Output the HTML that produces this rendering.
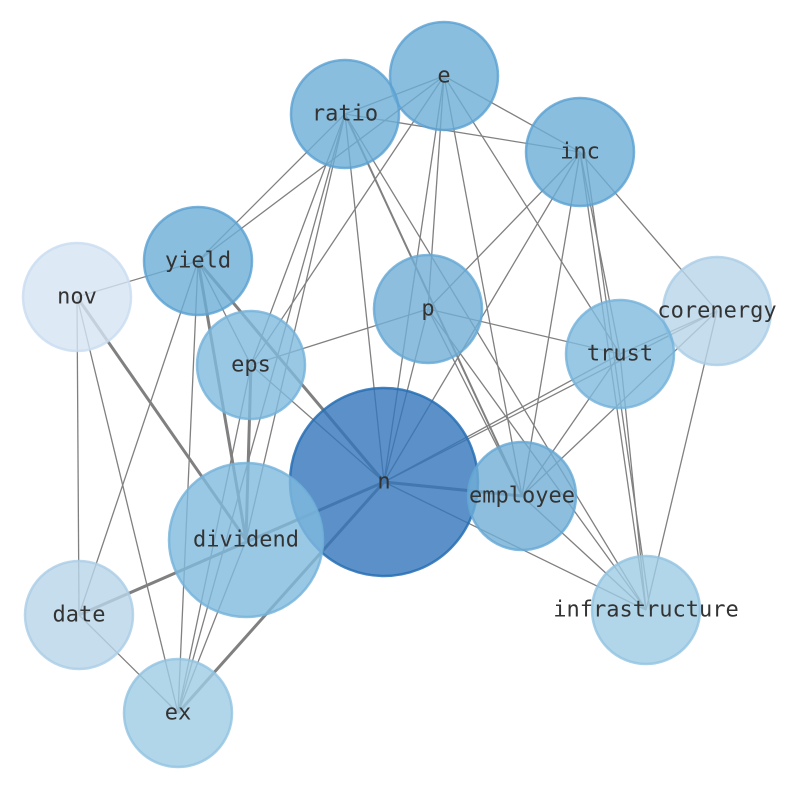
<!DOCTYPE html>
<html><head><meta charset="utf-8"><style>html,body{margin:0;padding:0;background:#fff}svg{display:block}</style></head>
<body>
<svg width="794" height="790" viewBox="0 0 794 790" xmlns="http://www.w3.org/2000/svg">
<g stroke="#808080" stroke-width="1.3" fill="none">
<line x1="345" y1="114" x2="444" y2="76"/>
<line x1="345" y1="114" x2="580" y2="152"/>
<line x1="345" y1="114" x2="198" y2="261"/>
<line x1="345" y1="114" x2="251" y2="365"/>
<line x1="345" y1="114" x2="246" y2="540"/>
<line x1="345" y1="114" x2="178" y2="713"/>
<line x1="345" y1="114" x2="384" y2="482"/>
<line x1="345" y1="114" x2="522" y2="496" stroke-width="2"/>
<line x1="345" y1="114" x2="646" y2="610"/>
<line x1="444" y1="76" x2="580" y2="152"/>
<line x1="444" y1="76" x2="198" y2="261"/>
<line x1="444" y1="76" x2="251" y2="365"/>
<line x1="444" y1="76" x2="428" y2="309"/>
<line x1="444" y1="76" x2="384" y2="482"/>
<line x1="444" y1="76" x2="522" y2="496"/>
<line x1="444" y1="76" x2="620" y2="354"/>
<line x1="580" y1="152" x2="428" y2="309"/>
<line x1="580" y1="152" x2="384" y2="482"/>
<line x1="580" y1="152" x2="522" y2="496"/>
<line x1="580" y1="152" x2="646" y2="610"/>
<line x1="580" y1="152" x2="620" y2="354"/>
<line x1="580" y1="152" x2="717" y2="311"/>
<line x1="585" y1="152" x2="650" y2="610"/>
<line x1="198" y1="261" x2="77" y2="297"/>
<line x1="198" y1="261" x2="79" y2="615"/>
<line x1="198" y1="261" x2="178" y2="713"/>
<line x1="198" y1="261" x2="246" y2="540" stroke-width="3"/>
<line x1="198" y1="261" x2="251" y2="365"/>
<line x1="198" y1="261" x2="384" y2="482" stroke-width="3"/>
<line x1="77" y1="297" x2="79" y2="615"/>
<line x1="77" y1="297" x2="178" y2="713"/>
<line x1="77" y1="297" x2="246" y2="540" stroke-width="3"/>
<line x1="428" y1="309" x2="251" y2="365"/>
<line x1="428" y1="309" x2="620" y2="354"/>
<line x1="428" y1="309" x2="384" y2="482"/>
<line x1="428" y1="309" x2="522" y2="496"/>
<line x1="428" y1="309" x2="646" y2="610"/>
<line x1="717" y1="311" x2="620" y2="354"/>
<line x1="717" y1="311" x2="384" y2="482"/>
<line x1="717" y1="311" x2="522" y2="496"/>
<line x1="717" y1="311" x2="646" y2="610"/>
<line x1="620" y1="354" x2="384" y2="482"/>
<line x1="620" y1="354" x2="522" y2="496"/>
<line x1="620" y1="354" x2="646" y2="610"/>
<line x1="251" y1="365" x2="246" y2="540" stroke-width="3"/>
<line x1="251" y1="365" x2="384" y2="482"/>
<line x1="251" y1="365" x2="178" y2="713"/>
<line x1="384" y1="482" x2="522" y2="496" stroke-width="3"/>
<line x1="384" y1="482" x2="79" y2="615" stroke-width="3"/>
<line x1="384" y1="482" x2="178" y2="713" stroke-width="3"/>
<line x1="384" y1="482" x2="646" y2="610"/>
<line x1="522" y1="496" x2="646" y2="610"/>
<line x1="79" y1="615" x2="178" y2="713"/>
<line x1="246" y1="540" x2="178" y2="713"/>
</g>
<g stroke-width="2.5">
<circle cx="444" cy="76" r="54" fill="rgba(107,174,214,0.8)" stroke="rgba(90,160,210,0.8)"/>
<circle cx="345" cy="114" r="54" fill="rgba(107,174,214,0.8)" stroke="rgba(90,160,210,0.8)"/>
<circle cx="580" cy="152" r="54" fill="rgba(107,174,214,0.8)" stroke="rgba(90,160,210,0.8)"/>
<circle cx="198" cy="261" r="54" fill="rgba(107,174,214,0.8)" stroke="rgba(90,160,210,0.8)"/>
<circle cx="77" cy="297" r="54" fill="rgba(214,228,244,0.8)" stroke="rgba(200,220,240,0.8)"/>
<circle cx="428" cy="309" r="54" fill="rgba(112,174,214,0.8)" stroke="rgba(100,168,212,0.8)"/>
<circle cx="717" cy="311" r="54" fill="rgba(184,213,233,0.8)" stroke="rgba(170,205,230,0.8)"/>
<circle cx="620" cy="354" r="54" fill="rgba(128,186,222,0.8)" stroke="rgba(115,178,218,0.8)"/>
<circle cx="251" cy="365" r="54" fill="rgba(128,186,222,0.8)" stroke="rgba(115,178,218,0.8)"/>
<circle cx="384" cy="482" r="94" fill="rgba(50,118,186,0.8)" stroke="rgba(40,110,180,0.85)"/>
<circle cx="522" cy="496" r="54" fill="rgba(112,174,214,0.8)" stroke="rgba(100,168,212,0.8)"/>
<circle cx="246" cy="540" r="77" fill="rgba(128,186,222,0.8)" stroke="rgba(115,178,218,0.8)"/>
<circle cx="646" cy="610" r="54" fill="rgba(158,203,228,0.8)" stroke="rgba(145,195,225,0.8)"/>
<circle cx="79" cy="615" r="54" fill="rgba(184,213,233,0.8)" stroke="rgba(170,205,230,0.8)"/>
<circle cx="178" cy="713" r="54" fill="rgba(158,203,228,0.8)" stroke="rgba(145,195,225,0.8)"/>
</g>
<g font-family="DejaVu Sans Mono, Liberation Mono, monospace" font-size="22" fill="#333" text-anchor="middle" dominant-baseline="central">
<text x="444" y="76">e</text>
<text x="345" y="114">ratio</text>
<text x="580" y="152">inc</text>
<text x="198" y="261">yield</text>
<text x="77" y="297">nov</text>
<text x="428" y="309">p</text>
<text x="717" y="311">corenergy</text>
<text x="620" y="354">trust</text>
<text x="251" y="365">eps</text>
<text x="384" y="482">n</text>
<text x="522" y="496">employee</text>
<text x="246" y="540">dividend</text>
<text x="646" y="610">infrastructure</text>
<text x="79" y="615">date</text>
<text x="178" y="713">ex</text>
</g>
</svg>
</body></html>
